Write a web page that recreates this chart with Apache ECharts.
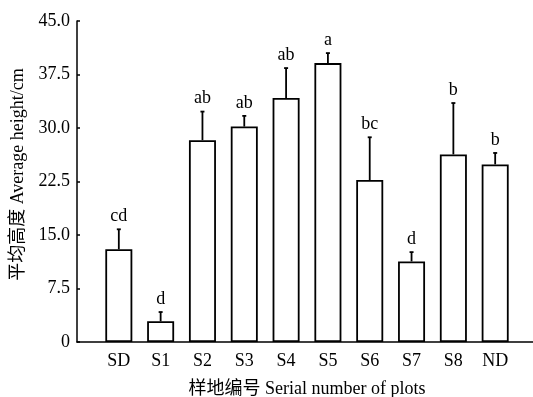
<!DOCTYPE html>
<html><head><meta charset="utf-8">
<script src="https://cdn.jsdelivr.net/npm/echarts@6/dist/echarts.min.js"></script>
<style>html,body{margin:0;padding:0;background:#fff}#c{width:533px;height:397px}</style>
</head><body><div id="c"></div>
<script>
var categories = ['SD','S1','S2','S3','S4','S5','S6','S7','S8','ND'];
var means = [13.0, 2.9, 28.3, 30.2, 34.2, 39.1, 22.7, 11.3, 26.3, 24.9];
var errors = [2.8, 1.3, 4.0, 1.5, 4.2, 1.4, 6.0, 1.3, 7.2, 1.6];
var letters = ['cd','d','ab','ab','ab','a','bc','d','b','b'];
var yTicks = [0, 7.5, 15, 22.5, 30, 37.5, 45];

var FONT = '"Liberation Serif", "Times New Roman", "Noto Sans CJK SC", serif';
var axisCats = [''].concat(categories).concat(['']);
var barData = [null].concat(means).concat([null]);
var errData = categories.map(function(c, i){ return [i + 1, means[i], errors[i]]; });

var chart = echarts.init(document.getElementById('c'));
chart.setOption({
  animation: false,
  grid: {left: 77, top: 21, width: 460, height: 321, containLabel: false, outerBoundsMode: 'none'},
  xAxis: {
    type: 'category', data: axisCats, boundaryGap: false,
    axisLine: {lineStyle: {color: '#000', width: 1.5}},
    axisTick: {show: false},
    axisLabel: {color: '#000', fontFamily: FONT, fontSize: 18, margin: 10, interval: 0},
    name: '样地编号 Serial number of plots', nameLocation: 'middle', nameGap: 38,
    nameTextStyle: {color: '#000', fontFamily: FONT, fontSize: 18}
  },
  yAxis: {
    type: 'value', min: yTicks[0], max: yTicks[yTicks.length-1], interval: 7.5,
    axisLine: {show: true, lineStyle: {color: '#000', width: 1.5}},
    axisTick: {show: true, inside: true, length: 3, lineStyle: {color: '#000', width: 1.5}},
    splitLine: {show: false},
    axisLabel: {color: '#000', fontFamily: FONT, fontSize: 18, margin: 7,
      formatter: function(v){ return v === 0 ? '0' : v.toFixed(1); }},
    name: '平均高度 Average height/cm', nameLocation: 'middle', nameGap: 48,
    nameTextStyle: {color: '#000', fontFamily: FONT, fontSize: 18, padding: [0, 0, 0, 14]}
  },
  series: [
    {type: 'bar', data: barData, barWidth: 27,
     itemStyle: {color: '#fff', borderColor: '#000', borderWidth: 1.8}},
    {type: 'custom', data: errData, z: 5,
     renderItem: function(params, api){
       var x = api.value(0), m = api.value(1), e = api.value(2);
       var base = api.coord([x, m]);
       var top = api.coord([x, m + e]);
       var cap = 2;
       return {type: 'group', children: [
         {type: 'line', shape: {x1: base[0], y1: base[1], x2: top[0], y2: top[1]},
          style: {stroke: '#000', lineWidth: 1.8}},
         {type: 'line', shape: {x1: top[0]-cap, y1: top[1], x2: top[0]+cap, y2: top[1]},
          style: {stroke: '#000', lineWidth: 1.8}},
         {type: 'text', x: top[0], y: top[1] - 4,
          style: {text: letters[params.dataIndex], fill: '#000', font: '18px ' + FONT,
                  textAlign: 'center', textVerticalAlign: 'bottom'}}
       ]};
     }}
  ]
});
</script></body></html>
